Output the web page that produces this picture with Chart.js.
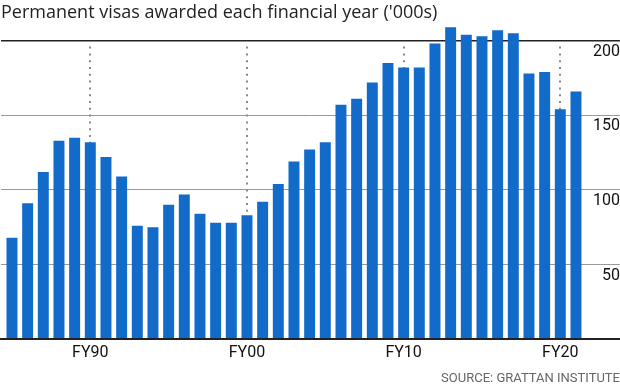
<!DOCTYPE html>
<html lang="en">
<head>
    <meta charset="UTF-8">
    <title>Permanent visas</title>
    <script src="https://cdn.jsdelivr.net/npm/chart.js"></script>
    <style>
        html, body { margin: 0; padding: 0; background: #fff; }
        #chart-container { width: 620px; height: 388px; position: relative; }
    </style>
</head>
<body>
    <div id="chart-container">
        <canvas id="visa-chart"></canvas>
    </div>

    <script>
        // financial years FY85 .. FY21
        const years = [1985, 1986, 1987, 1988, 1989, 1990, 1991, 1992, 1993, 1994,
                       1995, 1996, 1997, 1998, 1999, 2000, 2001, 2002, 2003, 2004,
                       2005, 2006, 2007, 2008, 2009, 2010, 2011, 2012, 2013, 2014,
                       2015, 2016, 2017, 2018, 2019, 2020, 2021];
        // permanent visas awarded ('000s)
        const visas = [68, 91, 112, 133, 135, 132, 122, 109, 76, 75,
                       90, 97, 84, 78, 78, 83, 92, 104, 119, 127,
                       132, 157, 161, 172, 185, 182, 182, 198, 209, 204,
                       203, 207, 205, 178, 179, 154, 166];
        const xTickYears = [1990, 2000, 2010, 2020];
        const xTickLabels = ["FY90", "FY00", "FY10", "FY20"];
        const yTicks = [0, 50, 100, 150, 200];

        // dotted markers at each decade, behind the bars
        const decadeLines = {
            id: "decadeLines",
            beforeDatasetsDraw(chart) {
                const ctx = chart.ctx;
                const x = chart.scales.x, y = chart.scales.y;
                ctx.save();
                ctx.strokeStyle = "#8a8a8a";
                ctx.lineWidth = 2;
                ctx.setLineDash([2, 4.8]);
                xTickYears.forEach(yr => {
                    const px = Math.round(x.getPixelForValue(yr));
                    ctx.beginPath();
                    ctx.moveTo(px, y.getPixelForValue(196));
                    ctx.lineTo(px, y.getPixelForValue(0));
                    ctx.stroke();
                });
                ctx.restore();
            }
        };

        new Chart(document.getElementById("visa-chart"), {
            type: "bar",
            data: {
                datasets: [{
                    data: years.map((yr, i) => ({ x: yr, y: visas[i] })),
                    backgroundColor: "#136bc9",
                    borderWidth: 0,
                    categoryPercentage: 1.0,
                    barPercentage: 0.7
                }]
            },
            options: {
                responsive: true,
                maintainAspectRatio: false,
                animation: false,
                layout: { padding: { left: 1, right: 0, top: 0, bottom: 0 } },
                plugins: {
                    legend: { display: false },
                    tooltip: { enabled: false },
                    title: {
                        display: true,
                        text: "Permanent visas awarded each financial year ('000s)",
                        align: "start",
                        color: "#222",
                        font: { family: "Open Sans", size: 18, weight: "normal" },
                        padding: { top: 2, bottom: 0 }
                    },
                    subtitle: {
                        display: true,
                        position: "bottom",
                        text: "SOURCE: GRATTAN INSTITUTE",
                        align: "end",
                        color: "#666",
                        font: { family: "Roboto", size: 13 },
                        padding: { top: 4, bottom: 1 }
                    }
                },
                scales: {
                    x: {
                        type: "linear",
                        offset: false,
                        min: 1984.3,
                        max: 2023.81,
                        afterBuildTicks: scale => {
                            scale.ticks = xTickYears.map(v => ({ value: v }));
                        },
                        ticks: {
                            autoSkip: false,
                            maxRotation: 0,
                            padding: 4.5,
                            color: "#111",
                            font: { family: "Roboto", size: 16 },
                            callback: v => xTickLabels[xTickYears.indexOf(v)]
                        },
                        grid: { display: false, drawTicks: false, offset: false },
                        border: { display: true, color: "#222", width: 2, z: 1 }
                    },
                    y: {
                        position: "right",
                        min: 0,
                        max: 211.4,
                        afterBuildTicks: scale => {
                            scale.ticks = yTicks.map(v => ({ value: v }));
                        },
                        ticks: {
                            mirror: true,
                            padding: 0,
                            labelOffset: 11,
                            color: "#111",
                            font: { family: "Roboto", size: 16 },
                            callback: v => (v === 0 ? "" : v)
                        },
                        grid: {
                            drawTicks: false,
                            color: c => c.tick.value === 200 ? "#222" : (c.tick.value === 0 ? "rgba(0,0,0,0)" : "#9a9a9a"),
                            lineWidth: c => c.tick.value === 200 ? 1.5 : 1
                        },
                        border: { display: false }
                    }
                }
            },
            plugins: [decadeLines]
        });
    </script>
</body>
</html>
